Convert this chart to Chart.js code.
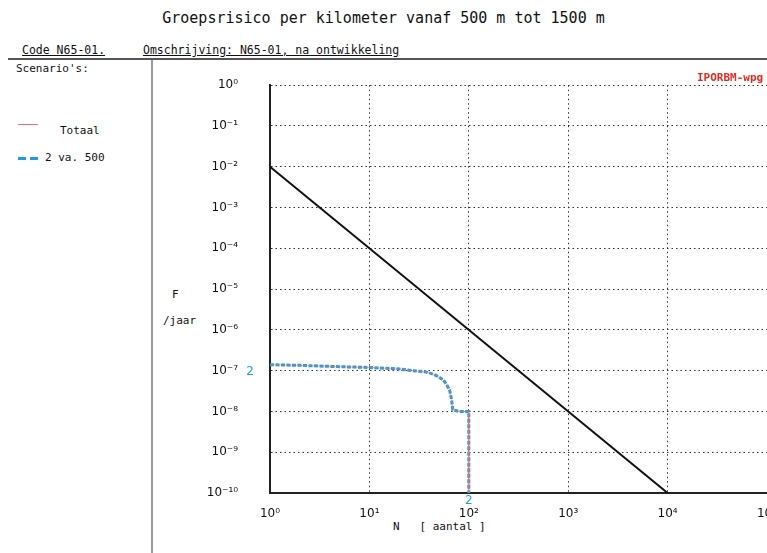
<!DOCTYPE html>
<html lang="nl">
<head>
<meta charset="UTF-8">
<title>Groepsrisico per kilometer</title>
<script src="https://cdn.jsdelivr.net/npm/chart.js"></script>
<style>
    html, body {
        margin: 0;
        padding: 0;
        background: #fff;
        overflow: hidden;
    }
    body {
        position: relative;
        width: 767px;
        height: 553px;
        font-family: "DejaVu Sans Mono", monospace;
        color: #111;
    }
    .abs { position: absolute; white-space: nowrap; }
    #title { top: 9px; left: 0; width: 767px; text-align: center; font-size: 15px; }
    .hdr { top: 43px; font-size: 11.5px; text-decoration: underline; }
    #hline { top: 58px; left: 8px; width: 759px; height: 2px; background: #555; }
    #vline { top: 60px; left: 151px; width: 2px; height: 493px; background: #999; }
    .small { font-size: 11px; }
    #wrap { position: absolute; left: 153px; top: 46px; width: 700px; height: 507px; }
</style>
</head>
<body>
<div id="title" class="abs">Groepsrisico per kilometer vanaf 500 m tot 1500 m</div>
<div class="abs hdr" style="left:22px">Code N65-01.</div>
<div class="abs hdr" style="left:143px">Omschrijving: N65-01, na ontwikkeling</div>
<div id="hline" class="abs"></div>
<div id="vline" class="abs"></div>
<div class="abs small" style="left:16px;top:62px">Scenario's:</div>
<div class="abs" style="left:18px;top:124px;width:20px;height:1px;background:#f07070"></div>
<div class="abs small" style="left:60px;top:124px">Totaal</div>
<div class="abs" style="left:18px;top:157px;width:8px;height:3px;background:#1e9ee0"></div>
<div class="abs" style="left:30px;top:157px;width:8px;height:3px;background:#1e9ee0"></div>
<div class="abs small" style="left:45px;top:151px">2 va. 500</div>
<div class="abs small" style="left:172px;top:288px">F</div>
<div class="abs small" style="left:163px;top:314px">/jaar</div>
<div class="abs" style="left:393px;top:520px;font-size:11px">N&nbsp;&nbsp;&nbsp;[ aantal ]</div>
<div id="wrap"><canvas id="chart"></canvas></div>
<div class="abs" style="left:697px;top:71px;font-size:11px;font-weight:bold;color:#e52a1e">IPORBM-wpg</div>

<script>
    // norm line
    const normN = [1, 1e4];
    const normF = [1e-2, 1e-10];

    // scenario "2 va. 500" (and Totaal, same curve)
    const scenN = [1, 2, 5, 10, 20, 27, 35, 40, 45, 50, 55, 60, 64, 67, 69, 80, 97, 100, 100];
    const scenF = [1.4e-7, 1.35e-7, 1.25e-7, 1.2e-7, 1.1e-7, 1.0e-7, 0.95e-7, 0.88e-7, 0.8e-7, 0.7e-7,
                   0.6e-7, 0.45e-7, 0.34e-7, 0.2e-7, 1.1e-8, 1.0e-8, 1.0e-8, 1.0e-8, 1e-10];
    const totaalN = scenN;
    const totaalF = scenF;

    const xTicks = [1, 1e1, 1e2, 1e3, 1e4, 1e5];
    const yTicks = [1, 1e-1, 1e-2, 1e-3, 1e-4, 1e-5, 1e-6, 1e-7, 1e-8, 1e-9, 1e-10];

    const sup = {'-': '\u207B', '0': '\u2070', '1': '\u00B9', '2': '\u00B2', '3': '\u00B3',
                 '4': '\u2074', '5': '\u2075', '6': '\u2076', '7': '\u2077', '8': '\u2078', '9': '\u2079'};
    function pow10Label(v) {
        const e = String(Math.round(Math.log10(v)));
        return '10' + e.split('').map(c => sup[c]).join('');
    }
    function pts(xs, ys) {
        return xs.map((x, i) => ({x: x, y: ys[i]}));
    }

    const endLabels = {
        id: 'endLabels',
        afterDatasetsDraw(chart) {
            const meta = chart.getDatasetMeta(2);
            const first = meta.data[0];
            const last = meta.data[meta.data.length - 1];
            const c = chart.ctx;
            c.save();
            c.font = '12px "DejaVu Sans"';
            c.fillStyle = '#1e9ee0';
            c.textAlign = 'center';
            c.textBaseline = 'middle';
            c.fillText('2', first.x - 20, first.y + 7);
            c.fillText('2', last.x, last.y + 8);
            c.restore();
        }
    };

    const gridLine = {color: '#333', lineWidth: 1, drawTicks: false};

    new Chart(document.getElementById('chart'), {
        type: 'scatter',
        data: {
            datasets: [
                {
                    label: 'norm',
                    data: pts(normN, normF),
                    showLine: true,
                    borderColor: '#111',
                    borderWidth: 2,
                    pointRadius: 0
                },
                {
                    label: 'Totaal',
                    data: pts(totaalN, totaalF),
                    showLine: true,
                    borderColor: 'rgba(240,112,112,0.6)',
                    borderWidth: 1,
                    pointRadius: 0
                },
                {
                    label: '2 va. 500',
                    data: pts(scenN, scenF),
                    showLine: true,
                    borderColor: '#1e9ee0',
                    borderWidth: 3,
                    borderDash: [4, 1.5],
                    pointRadius: 0
                }
            ]
        },
        options: {
            responsive: true,
            maintainAspectRatio: false,
            animation: false,
            layout: {padding: {top: 11, right: 86, left: 0, bottom: 0}},
            plugins: {legend: {display: false}, tooltip: {enabled: false}},
            scales: {
                x: {
                    type: 'logarithmic',
                    min: 1,
                    max: 1e5,
                    afterBuildTicks: s => { s.ticks = xTicks.map(v => ({value: v})); },
                    afterFit: s => { s.height = 60; },
                    grid: gridLine,
                    border: {display: true, color: '#222', width: 2, dash: [1.5, 3]},
                    ticks: {
                        padding: 14,
                        color: '#111',
                        font: {family: '"DejaVu Sans"', size: 12},
                        maxRotation: 0,
                        autoSkip: false,
                        callback: v => pow10Label(v)
                    }
                },
                y: {
                    type: 'logarithmic',
                    min: 1e-10,
                    max: 1,
                    afterBuildTicks: s => { s.ticks = yTicks.map(v => ({value: v})); },
                    afterFit: s => { s.width = 117; },
                    grid: gridLine,
                    border: {display: true, color: '#222', width: 2, dash: [1.5, 3]},
                    ticks: {
                        padding: 32,
                        color: '#111',
                        font: {family: '"DejaVu Sans"', size: 12},
                        autoSkip: false,
                        callback: v => pow10Label(v)
                    }
                }
            }
        },
        plugins: [endLabels]
    });
</script>
</body>
</html>
